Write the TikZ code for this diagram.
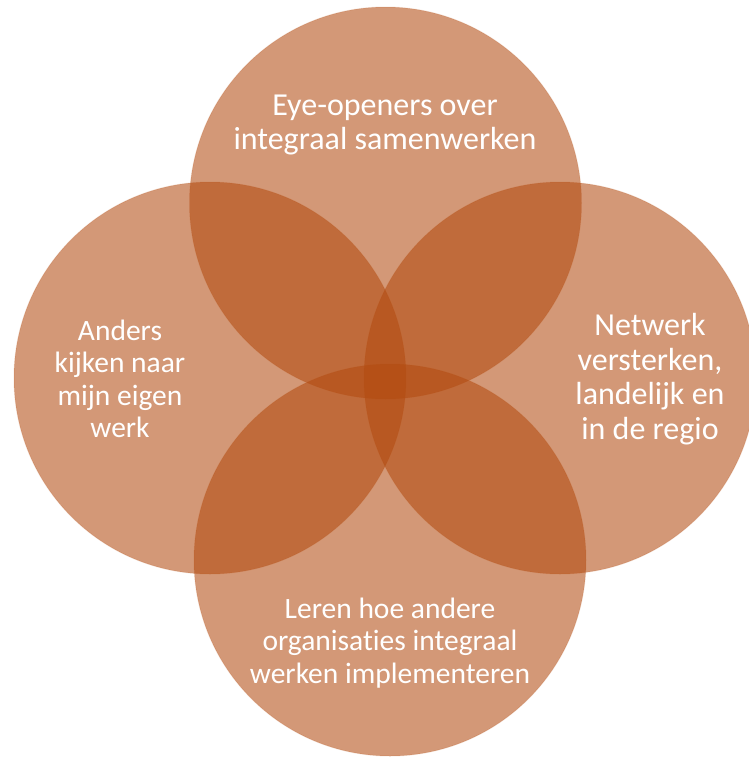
\documentclass[tikz,border=0pt]{standalone}
\usepackage{fontspec}
\setmainfont{Carlito}[Ligatures=NoCommon]
\definecolor{petalorange}{RGB}{178,74,15}
\tikzset{
  petal/.style={circle, minimum size=392pt, inner sep=0pt, fill=petalorange, fill opacity=0.57,
    draw=petalorange, draw opacity=0.15, line width=1pt},
  petaltext/.style={text=white, align=center, font=\fontsize{29.5}{32.5}\selectfont},
  bigpetaltext/.style={petaltext, font=\fontsize{32}{34.5}\selectfont}
}
\begin{document}
\begin{tikzpicture}[x=1pt,y=-1pt]
			\useasboundingbox (0,0) rectangle (749,758);
			\node[petal] (top) at (385.5,203) {};
			\node[petal] (left) at (210,378) {};
			\node[petal] (right) at (560,378) {};
			\node[petal] (bottom) at (390,560) {};
			\node[bigpetaltext] (toptext) at (385,125) {Eye-openers over\\integraal samenwerken};
			\node[petaltext] (lefttext) at (120,379) {Anders\\kijken naar\\mijn eigen\\werk};
			\node[bigpetaltext] (righttext) at (650,379) {Netwerk\\versterken,\\landelijk en\\in de regio};
			\node[petaltext] (bottomtext) at (390,643) {Leren hoe andere\\organisaties integraal\\werken implementeren};
		\end{tikzpicture}
\end{document}
